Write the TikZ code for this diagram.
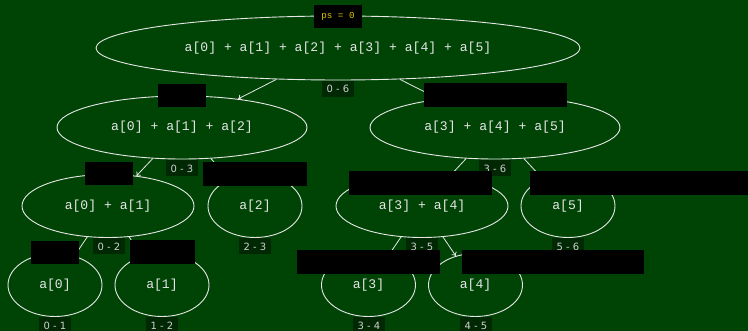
\documentclass[tikz,border=0pt]{standalone}
\usepackage{fontspec}
\setmonofont{Liberation Mono}
\newfontfamily\labfont{DejaVu Sans}
\usetikzlibrary{shapes.geometric,arrows.meta}
\definecolor{bg}{RGB}{0,68,5}
\definecolor{labbg}{RGB}{0,40,3}
\definecolor{fg}{RGB}{230,230,230}
\definecolor{psyellow}{RGB}{220,200,0}
\tikzset{
  sumnode/.style={ellipse, draw=fg, line width=0.9pt, inner sep=0pt, text=fg,
    font=\ttfamily\fontsize{13.1}{15}\selectfont},
  rangelab/.style={fill=labbg, text=fg!90!black, inner sep=0pt, minimum width=32, minimum height=16,
    font=\labfont\fontsize{10}{12}\selectfont},
  blackbox/.style={fill=black, inner sep=0pt},
  edge/.style={draw=fg, line width=0.8pt, -{To[length=3.5pt,width=6pt]}},
}
\begin{document}
\begin{tikzpicture}[x=1pt,y=-1pt]
\fill[bg] (0,0) rectangle (748,331);
\useasboundingbox (0,0) rectangle (748,331);
\clip (0,0) rectangle (748,331);
% nodes
\node[sumnode, minimum width=484, minimum height=64] (r) at (338,48) {a[0] + a[1] + a[2] + a[3] + a[4] + a[5]};
\node[sumnode, minimum width=250, minimum height=63] (l) at (182,127.5) {a[0] + a[1] + a[2]};
\node[sumnode, minimum width=250, minimum height=63] (rr) at (495,127.5) {a[3] + a[4] + a[5]};
\node[sumnode, minimum width=172, minimum height=63] (ll) at (108,206) {a[0] + a[1]};
\node[sumnode, minimum width=94, minimum height=63] (lr) at (255,206) {a[2]};
\node[sumnode, minimum width=172, minimum height=63] (rl) at (422,206) {a[3] + a[4]};
\node[sumnode, minimum width=94, minimum height=63] (rrr) at (568,206) {a[5]};
\node[sumnode, minimum width=94, minimum height=63] (lll) at (55,285) {a[0]};
\node[sumnode, minimum width=94, minimum height=63] (llr) at (162,285) {a[1]};
\node[sumnode, minimum width=94, minimum height=63] (rll) at (368.5,285) {a[3]};
\node[sumnode, minimum width=94, minimum height=63] (rlr) at (475.5,285) {a[4]};
% edges
\draw[edge] (r) -- (l);
\draw[edge] (r) -- (rr);
\draw[edge] (l) -- (ll);
\draw[edge] (l) -- (lr);
\draw[edge] (rr) -- (rl);
\draw[edge] (rr) -- (rrr);
\draw[edge] (ll) -- (lll);
\draw[edge] (ll) -- (llr);
\draw[edge] (rl) -- (rll);
\draw[edge] (rl) -- (rlr);
% range labels
\node[rangelab] (lr0) at (338,89) {0 - 6};
\node[rangelab] (lr1) at (182,168.5) {0 - 3};
\node[rangelab] (lr2) at (495,168.5) {3 - 6};
\node[rangelab] (lr3) at (109,246.5) {0 - 2};
\node[rangelab] (lr4) at (255,246.5) {2 - 3};
\node[rangelab] (lr5) at (422,246.5) {3 - 5};
\node[rangelab] (lr6) at (568,246.5) {5 - 6};
\node[rangelab] (lr7) at (55,325.5) {0 - 1};
\node[rangelab] (lr8) at (162,325.5) {1 - 2};
\node[rangelab] (lr9) at (369,325.5) {3 - 4};
\node[rangelab] (lr10) at (476,325.5) {4 - 5};
% black boxes
\node[blackbox, minimum width=48, minimum height=23, text=psyellow,
  font=\ttfamily\fontsize{9.2}{11}\selectfont] (ps) at (338,16.5) {ps = 0};
\node[blackbox, minimum width=48, minimum height=23] (b1) at (182,95.5) {};
\node[blackbox, minimum width=143, minimum height=24] (b2) at (495.5,95) {};
\node[blackbox, minimum width=48, minimum height=23] (b3) at (109,173.5) {};
\node[blackbox, minimum width=104, minimum height=24] (b4) at (255,174) {};
\node[blackbox, minimum width=143, minimum height=24] (b5) at (420.5,183) {};
\node[blackbox, minimum width=218, minimum height=24] (b6) at (639,183) {};
\node[blackbox, minimum width=48, minimum height=23] (b7) at (55,252.5) {};
\node[blackbox, minimum width=65, minimum height=24] (b8) at (162.5,252) {};
\node[blackbox, minimum width=143, minimum height=24] (b9) at (368.5,262) {};
\node[blackbox, minimum width=182, minimum height=24] (b10) at (553,262) {};
\end{tikzpicture}
\end{document}
